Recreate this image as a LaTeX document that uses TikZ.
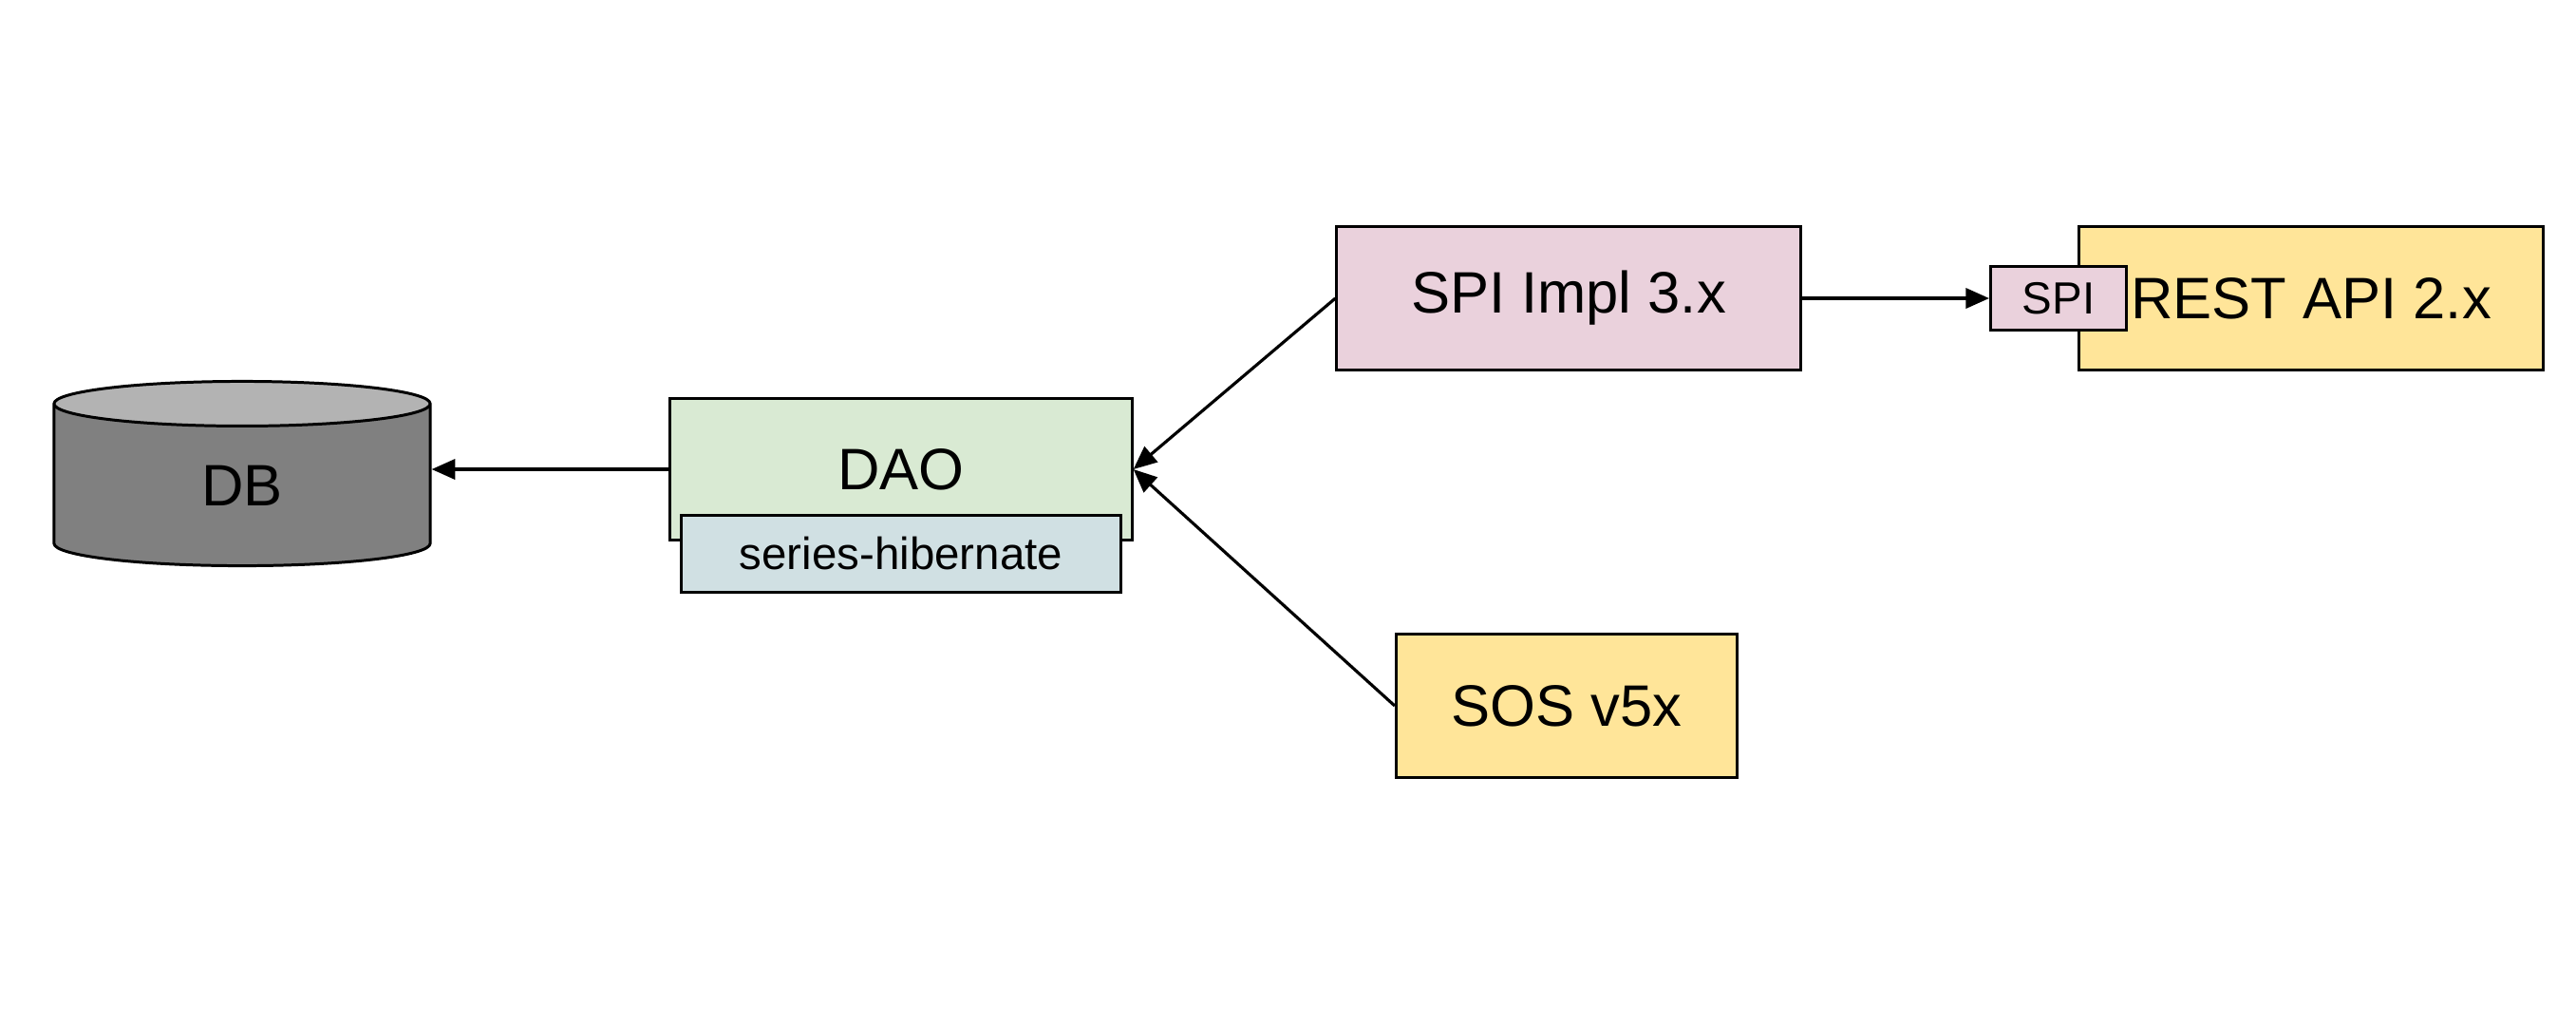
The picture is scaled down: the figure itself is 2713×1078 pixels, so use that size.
\documentclass[tikz,border=0pt]{standalone}
\usepackage{fontspec}
\setmainfont{Liberation Sans}
\usetikzlibrary{shapes.geometric, arrows.meta, positioning}
\definecolor{DaoGreen}{HTML}{D9EAD3}
\definecolor{HibBlue} {HTML}{D0E0E3}
\definecolor{SpiPink} {HTML}{EAD1DC}
\definecolor{ApiYellow}{HTML}{FFE599}
\definecolor{DbBody}  {HTML}{808080}
\definecolor{DbTop}   {HTML}{B3B3B3}
\tikzset{
  blk/.style={draw, line width=0.85pt, inner sep=0pt, align=center,
              font=\fontsize{17.5}{21}\selectfont},
  small/.style={blk, font=\fontsize{13.5}{16}\selectfont},
  arr/.style={-{Triangle[length=7pt,width=6pt]}, line width=0.9pt}
}

\begin{document}
\begin{tikzpicture}[x=0.01cm, y=-0.01cm]
  \useasboundingbox (0,0) rectangle (2713,1078);
  \node[blk, cylinder, shape border rotate=90, aspect=0.55,
        cylinder uses custom fill, cylinder body fill=DbBody, cylinder end fill=DbTop,
        minimum width=3.96cm, minimum height=1.94cm] (db) at (255,511) {DB};
  \node[blk, fill=DaoGreen, minimum width=4.86cm, minimum height=1.49cm] (dao) at (949,494) {DAO};
  \node[small, fill=HibBlue, minimum width=4.62cm, minimum height=0.80cm] (hib) at (949,583) {series-hibernate};
  \node[blk, fill=SpiPink, minimum width=4.88cm, minimum height=1.50cm] (impl) at (1652,314) {SPI Impl 3.x};
  \node[blk, fill=ApiYellow, minimum width=4.88cm, minimum height=1.50cm] (rest) at (2434,314) {REST API 2.x};
  \node[small, fill=SpiPink, minimum width=1.43cm, minimum height=0.66cm] (spi) at (2168,314) {SPI};
  \node[blk, fill=ApiYellow, minimum width=3.59cm, minimum height=1.50cm] (sos) at (1650,743) {SOS v5x};
  \draw[arr](dao.west)--(dao.west -| db.east);
  \draw[arr](impl.west)--(dao.east);
  \draw[arr](sos.west)--(dao.east);
  \draw[arr](impl.east)--(spi.west);
\end{tikzpicture}
\end{document}
